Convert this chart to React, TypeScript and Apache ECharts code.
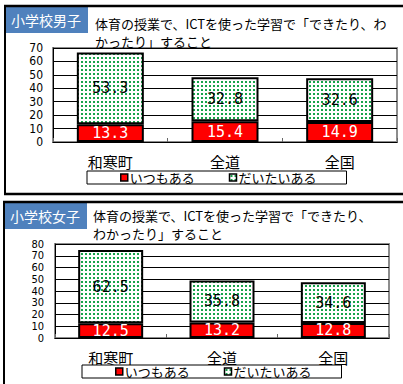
import React, { useEffect, useRef } from "react";
import * as echarts from "echarts";

const categories = ["和寒町", "全道", "全国"];
const seriesNames = ["いつもある", "だいたいある"];
const boysAlways = [13.3, 15.4, 14.9];
const boysMostly = [53.3, 32.8, 32.6];
const girlsAlways = [12.5, 13.2, 12.8];
const girlsMostly = [62.5, 35.8, 34.6];
const boysMax = 70;
const girlsMax = 80;
const panelTags = ["小学校男子", "小学校女子"];
const boysTitle = ["体育の授業で、ICTを使った学習で「できたり、わ", "かったり」すること"];
const girlsTitle = ["体育の授業で、ICTを使った学習で「できたり、", "わかったり」すること"];

const JP = "'Noto Sans CJK JP', sans-serif";
const NUM = "'DejaVu Sans Mono', monospace";
const AX = "'DejaVu Sans Condensed', 'DejaVu Sans', sans-serif";

function makePattern() {
  const c = document.createElement("canvas");
  c.width = 4;
  c.height = 4;
  const ctx = c.getContext("2d")!;
  ctx.fillStyle = "#ffffff";
  ctx.fillRect(0, 0, 4, 4);
  ctx.fillStyle = "#16a34a";
  ctx.fillRect(1, 1, 2, 2);
  return { image: c, repeat: "repeat", imageWidth: 4, imageHeight: 4 } as any;
}

export default function App() {
  const ref = useRef<HTMLDivElement>(null);
  useEffect(() => {
    if (!ref.current) return;
    const chart = echarts.init(ref.current, null, { renderer: "svg" });
    const pattern = makePattern();
    const fmt = (p: any) => Number(p.value).toFixed(1);

    const mkGrid = (left: number, top: number, width: number) => ({
      left,
      top,
      width,
      height: 94,
      show: true,
      borderColor: "#8c8c8c",
      borderWidth: 2,
      backgroundColor: "#fff",
    });
    const mkX = (gi: number) => ({
      type: "category",
      gridIndex: gi,
      data: categories,
      axisLine: { show: true, lineStyle: { color: "#000", width: 1 } },
      axisTick: { show: true, inside: true, length: 4, lineStyle: { color: "#666" } },
      axisLabel: { color: "#000", fontSize: 15, fontFamily: JP, margin: 12 },
    });
    const mkY = (gi: number, max: number, fs: number, margin: number) => ({
      type: "value",
      gridIndex: gi,
      min: 0,
      max,
      interval: 10,
      axisLine: { show: true, lineStyle: { color: "#000", width: 1 } },
      axisTick: { show: false },
      splitLine: { show: true, lineStyle: { color: "#000", width: 1 } },
      axisLabel: {
        color: "#000",
        fontSize: fs,
        fontFamily: AX,
        margin,
        showMinLabel: true,
        showMaxLabel: true,
      },
    });
    const mkSeries = (gi: number, always: number[], mostly: number[], bw: number) => [
      {
        name: seriesNames[0],
        type: "bar",
        xAxisIndex: gi,
        yAxisIndex: gi,
        stack: "s" + gi,
        barWidth: bw,
        data: always,
        itemStyle: { color: "#ff0000", borderColor: "#000", borderWidth: 2 },
        label: { show: true, position: "inside", color: "#fff", fontSize: 15, fontFamily: NUM, formatter: fmt },
      },
      {
        name: seriesNames[1],
        type: "bar",
        xAxisIndex: gi,
        yAxisIndex: gi,
        stack: "s" + gi,
        barWidth: bw,
        data: mostly,
        itemStyle: { color: pattern, borderColor: "#000", borderWidth: 2 },
        label: { show: true, position: "inside", color: "#000", fontSize: 15, fontFamily: NUM, formatter: fmt },
      },
    ];
    const mkLegend = (left: number, top: number) => ({
      left,
      top,
      orient: "horizontal",
      data: seriesNames.map((n) => ({ name: n, icon: "rect" })),
      backgroundColor: "#fff",
      borderColor: "#000",
      borderWidth: 1,
      padding: [0, 30, 0, 33],
      itemWidth: 7,
      itemHeight: 7,
      itemGap: 34,
      selectedMode: false,
      itemStyle: { borderColor: "#000", borderWidth: 1.5 },
      textStyle: { color: "#000", fontSize: 13, fontFamily: JP, lineHeight: 13, padding: [0, 0, 0, -3] },
    });

    const titleText = (x: number, y: number, lines: string[]) => ({
      type: "text",
      x,
      y,
      style: { text: lines.join("\n"), fill: "#000", font: `13px ${JP}`, lineHeight: 18 },
      z: 10,
    });
    const tagBox = (x: number, y: number, label: string) => ({
      type: "group",
      x,
      y,
      z: 20,
      children: [
        { type: "rect", shape: { x: 0, y: 0, width: 84, height: 26 }, style: { fill: "#4f81bd" } },
        {
          type: "text",
          x: 42,
          y: 13,
          style: { text: label, fill: "#fff", font: `14px ${JP}`, align: "center", verticalAlign: "middle" },
        },
      ],
    });

    chart.setOption({
      animation: false,
      backgroundColor: "#fff",
      grid: [mkGrid(53, 48, 344), mkGrid(55, 244, 334)],
      xAxis: [mkX(0), mkX(1)],
      yAxis: [mkY(0, boysMax, 12, 10), mkY(1, girlsMax, 11, 11)],
      series: [...mkSeries(0, boysAlways, boysMostly, 67), ...mkSeries(1, girlsAlways, girlsMostly, 65)],
      legend: [mkLegend(87, 171), mkLegend(82, 365)],
      graphic: [
        { type: "line", shape: { x1: 4, y1: 6, x2: 403, y2: 6 }, style: { stroke: "#000", lineWidth: 2.5 }, z: 5 },
        { type: "line", shape: { x1: 5, y1: 6, x2: 5, y2: 194 }, style: { stroke: "#000", lineWidth: 2 }, z: 5 },
        { type: "line", shape: { x1: 4, y1: 194, x2: 403, y2: 194 }, style: { stroke: "#000", lineWidth: 2.5 }, z: 5 },
        { type: "line", shape: { x1: 3, y1: 202, x2: 403, y2: 202 }, style: { stroke: "#000", lineWidth: 2.5 }, z: 5 },
        { type: "line", shape: { x1: 4, y1: 202, x2: 4, y2: 384 }, style: { stroke: "#000", lineWidth: 2 }, z: 5 },
        tagBox(4, 7, panelTags[0]),
        tagBox(3, 203, panelTags[1]),
        titleText(95, 14, boysTitle),
        titleText(93, 206, girlsTitle),
      ],
    });
    return () => chart.dispose();
  }, []);
  return <div ref={ref} style={{ position: "fixed", left: 0, top: 0, width: 403, height: 384 }} />;
}
